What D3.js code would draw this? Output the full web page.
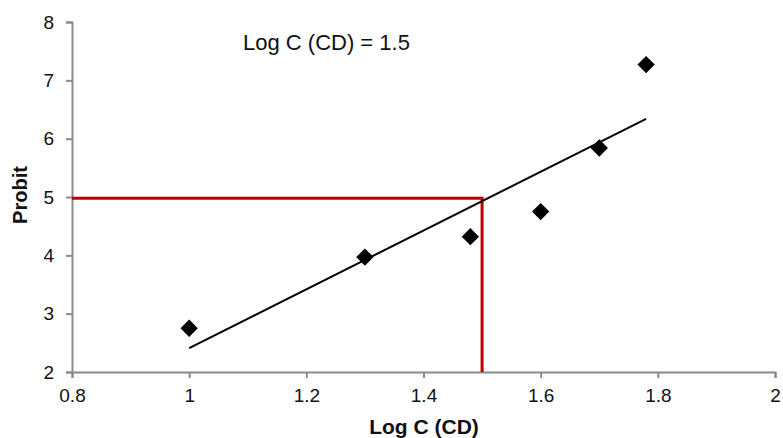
<!DOCTYPE html>
<html>
<head>
<meta charset="utf-8">
<script src="https://cdn.jsdelivr.net/npm/d3@7"></script>
<style>
  body { margin: 0; background: #fff; }
  text { font-family: "Liberation Sans", Arial, sans-serif; fill: #111; }
</style>
</head>
<body>
<div id="chart"></div>
<script>
// observed points
const logC = [1, 1.3, 1.48, 1.6, 1.7, 1.78]
const probit = [2.75, 3.97, 4.32, 4.75, 5.84, 7.27]

// trend line ends (as drawn in the source)
const trendX = [1, 1.78]
const trendY = [2.41, 6.34]

// red guide: probit 5 -> Log C 1.5
const guideX = [0.8, 1.5, 1.5]
const guideY = [4.98, 4.98, 2]

const xTicks = [0.8, 1, 1.2, 1.4, 1.6, 1.8, 2]
const yTicks = [2, 3, 4, 5, 6, 7, 8]

const w = 783
const h = 438
const m = { left: 72, right: 8, top: 22, bottom: 66 }

const svg = d3.select("#chart").append("svg")
    .attr("width", w)
    .attr("height", h)

const x = d3.scaleLinear().domain([0.8, 2]).range([m.left, w - m.right])
const y = d3.scaleLinear().domain([2, 8]).range([h - m.bottom, m.top])

const axisClr = "#8a8a8a"

const gx = svg.append("g")
    .attr("transform", `translate(0,${y(2)})`)
    .call(d3.axisBottom(x).tickValues(xTicks).tickSize(6).tickPadding(11)
        .tickFormat(d => String(d)))
gx.selectAll("text").style("font-size", "19px")

const gy = svg.append("g")
    .attr("transform", `translate(${x(0.8)},0)`)
    .call(d3.axisLeft(y).tickValues(yTicks).tickSize(6).tickPadding(12)
        .tickFormat(d3.format("d")))
gy.selectAll("text").style("font-size", "19px")

svg.selectAll(".domain").attr("stroke", axisClr).attr("stroke-width", 2)
svg.selectAll(".tick line").attr("stroke", axisClr).attr("stroke-width", 2)

// guide line
const guide = guideX.map((v, i) => [v, guideY[i]])
svg.append("path")
    .attr("d", d3.line().x(d => x(d[0])).y(d => y(d[1]))(guide))
    .attr("fill", "none")
    .attr("stroke", "#c00000")
    .attr("stroke-width", 3)

// trend line
const trend = trendX.map((v, i) => [v, trendY[i]])
svg.append("path")
    .attr("d", d3.line().x(d => x(d[0])).y(d => y(d[1]))(trend))
    .attr("fill", "none")
    .attr("stroke", "#000")
    .attr("stroke-width", 2)

// points, diamonds
svg.selectAll(".pt")
    .data(logC.map((v, i) => [v, probit[i]]))
    .enter().append("path")
    .attr("class", "pt")
    .attr("d", d3.symbol().type(d3.symbolSquare).size(150))
    .attr("transform", d => `translate(${x(d[0])},${y(d[1])}) rotate(45)`)
    .attr("fill", "#000")

// annotation
svg.append("text")
    .attr("x", 243)
    .attr("y", 50)
    .style("font-size", "22px")
    .text("Log C (CD) = 1.5")

// axis titles
svg.append("text")
    .attr("x", 424)
    .attr("y", 434)
    .attr("text-anchor", "middle")
    .style("font-size", "21px")
    .style("font-weight", "bold")
    .text("Log C (CD)")

svg.append("text")
    .attr("transform", `translate(27,${y(5) - 2}) rotate(-90)`)
    .attr("text-anchor", "middle")
    .style("font-size", "20px")
    .style("font-weight", "bold")
    .text("Probit")
</script>
</body>
</html>
